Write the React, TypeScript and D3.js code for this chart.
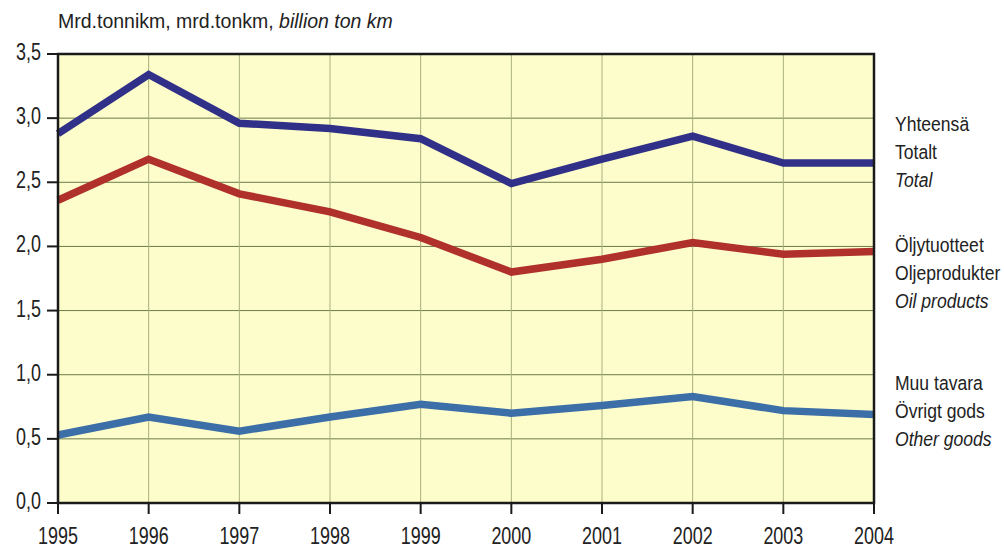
import React from "react";
import * as d3 from "d3";

const years = [1995, 1996, 1997, 1998, 1999, 2000, 2001, 2002, 2003, 2004];
const total = [2.88, 3.34, 2.96, 2.92, 2.84, 2.49, 2.68, 2.86, 2.65, 2.65];
const oil = [2.36, 2.68, 2.41, 2.27, 2.07, 1.80, 1.90, 2.03, 1.94, 1.96];
const other = [0.53, 0.67, 0.56, 0.67, 0.77, 0.70, 0.76, 0.83, 0.72, 0.69];
const yTicks = [0, 0.5, 1, 1.5, 2, 2.5, 3, 3.5];
const seriesNames = ["total", "oil", "other"];
const labelGroups = [
  { lines: ["Yhteensä", "Totalt", "Total"], y: 131 },
  { lines: ["Öljytuotteet", "Oljeprodukter", "Oil products"], y: 252 },
  { lines: ["Muu tavara", "Övrigt gods", "Other goods"], y: 390 },
];

const W = 1004;
const H = 551;
const left = 58;
const right = 874;
const top = 54;
const bottom = 503;

export default function App() {
  const x = d3.scaleLinear().domain([1995, 2004]).range([left, right]);
  const y = d3.scaleLinear().domain([0, 3.5]).range([bottom, top]);
  const line = d3
    .line<number>()
    .x((_, i) => x(years[i]))
    .y((d) => y(d));
  const series = [
    { name: seriesNames[0], values: total, color: "#303088" },
    { name: seriesNames[1], values: oil, color: "#B0302C" },
    { name: seriesNames[2], values: other, color: "#3C6EA8" },
  ];
  const font = "'Liberation Sans', Arial, sans-serif";
  const tickScale = 0.78;
  const legScale = 0.9;
  return (
    <svg
      width={W}
      height={H}
      style={{ position: "absolute", left: 0, top: 0, background: "#fff" }}
      fontFamily={font}
    >
      <rect x={left} y={top} width={right - left} height={bottom - top} fill="#FDFDCB" />
      {yTicks.slice(1, -1).map((t) => (
        <line key={"hg" + t} x1={left} x2={right} y1={y(t)} y2={y(t)} stroke="#6E7A4A" strokeWidth={1} />
      ))}
      {years.slice(1, -1).map((yr) => (
        <line key={"vg" + yr} x1={x(yr)} x2={x(yr)} y1={top} y2={bottom} stroke="#A9B07A" strokeWidth={1} />
      ))}
      {series.map((s) => (
        <path
          key={s.name}
          d={line(s.values) || ""}
          fill="none"
          stroke={s.color}
          strokeWidth={7.5}
          strokeLinejoin="miter"
        />
      ))}
      <rect x={left} y={top} width={right - left} height={bottom - top} fill="none" stroke="#1a1a1a" strokeWidth={2.5} />
      {yTicks.map((t) => (
        <g key={"yt" + t}>
          <line x1={left - 11} x2={left} y1={y(t)} y2={y(t)} stroke="#1a1a1a" strokeWidth={2} />
          <text
            transform={`translate(${left - 17},${y(t) + 6}) scale(${tickScale},1)`}
            textAnchor="end"
            fontSize={23}
            fill="#222"
          >
            {d3.format(".1f")(t).replace(".", ",")}
          </text>
        </g>
      ))}
      {years.map((yr) => (
        <g key={"xt" + yr}>
          <line x1={x(yr)} x2={x(yr)} y1={bottom} y2={bottom + 11} stroke="#1a1a1a" strokeWidth={2} />
          <text
            transform={`translate(${x(yr)},544) scale(${tickScale},1)`}
            textAnchor="middle"
            fontSize={23}
            fill="#222"
          >
            {yr}
          </text>
        </g>
      ))}
      <text x={58} y={28} fontSize={19.5} fill="#222">
        Mrd.tonnikm, mrd.tonkm, <tspan fontStyle="italic">billion ton km</tspan>
      </text>
      {labelGroups.map((g, gi) =>
        g.lines.map((l, li) => (
          <text
            key={gi + "-" + li}
            transform={`translate(895,${g.y + li * 27.8}) scale(${legScale},1)`}
            fontSize={19.5}
            fill="#222"
            fontStyle={li === 2 ? "italic" : "normal"}
          >
            {l}
          </text>
        ))
      )}
    </svg>
  );
}
